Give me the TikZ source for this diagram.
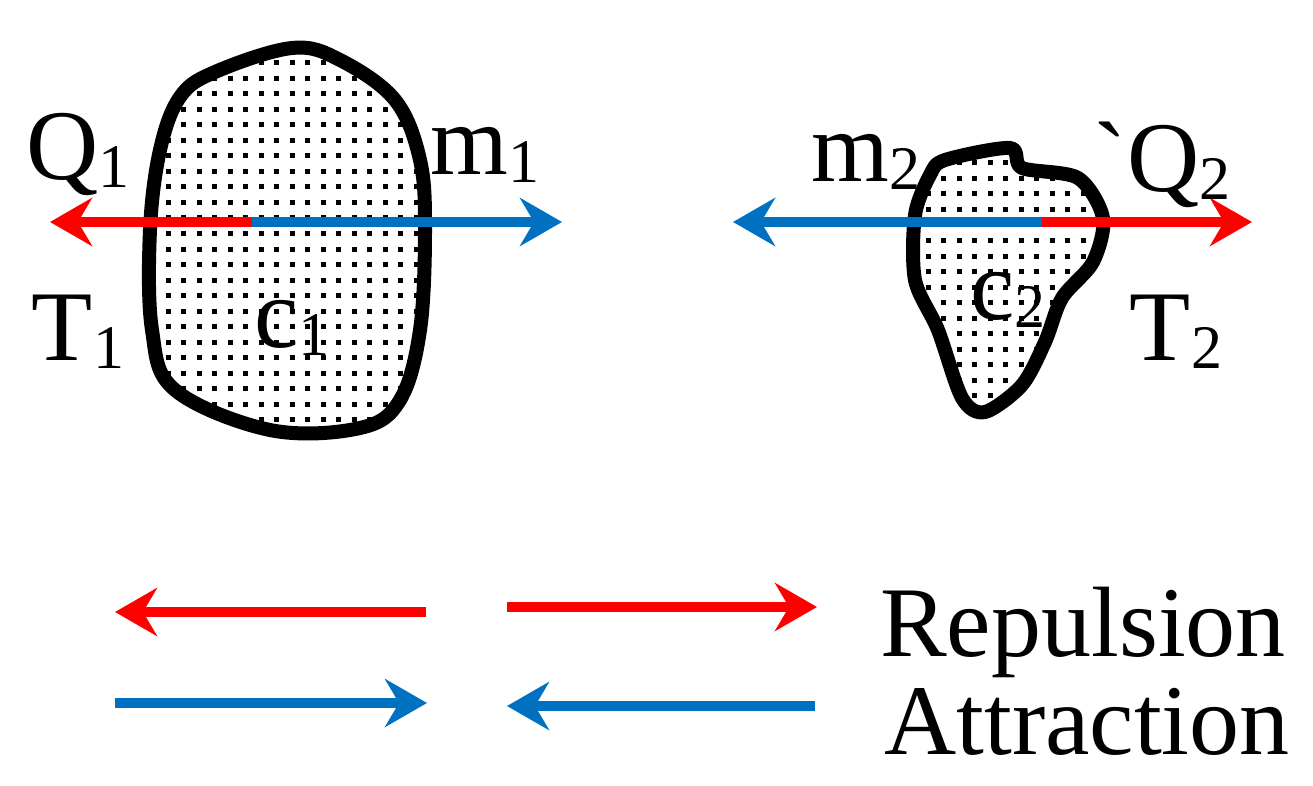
\documentclass[tikz,border=0pt]{standalone}
\usepackage{fontspec}
\setmainfont{Liberation Serif}
\usetikzlibrary{arrows.meta}
\begin{document}
\begin{tikzpicture}[x=1pt,y=-1pt,
 blob/.style={line width=14pt,line join=round},
 rep/.style={line width=10pt,draw={rgb,255:red,255;green,0;blue,0},-{Stealth[length=42pt,width=48pt,inset=14pt]}},
 att/.style={line width=10pt,draw={rgb,255:red,0;green,112;blue,192},-{Stealth[length=42pt,width=48pt,inset=14pt]}},
 lab/.style={font=\fontsize{100}{104}\selectfont,inner sep=0pt}]
\useasboundingbox (0,0) rectangle (1313,786);
\def\sub#1{\raisebox{-8pt}{\fontsize{62}{64}\selectfont #1}}
\def\blobA{plot[smooth cycle,tension=0.6] coordinates{(292,48)(215,72)(180,97)(160,150)(150,230)(152,330)(175,390)(270,430)(360,428)(400,400)(420,330)(425,230)(420,160)(395,100)(340,60)}}
\def\blobB{plot[smooth cycle,tension=0.5] coordinates{(945,160)(1010,148)(1022,168)(1078,178)(1103,218)(1093,262)(1062,298)(1045,342)(1022,385)(985,412)(962,398)(938,330)(915,280)(915,215)(930,175)}}
\begin{scope}
\clip \blobA;
\foreach \i in {0,...,19}{\foreach \j in {0,...,26}{\fill (150+\i*15.5,45+\j*15.5) rectangle ++(5,5);}}
\end{scope}
\begin{scope}
\clip \blobB;
\foreach \i in {0,...,13}{\foreach \j in {0,...,18}{\fill (910+\i*15.5,145+\j*15.5) rectangle ++(5,5);}}
\end{scope}
\draw[blob] \blobA;
\draw[blob] \blobB;
\coordinate (c1) at (252,222);
\coordinate (l1) at (50,222);
\coordinate (r1) at (562,222);
\coordinate (c2) at (1042,222);
\coordinate (l2) at (733,222);
\coordinate (r2) at (1252,222);
\draw[rep] (c1) -- (l1);
\draw[att] (c1) -- (r1);
\draw[att] (c2) -- (l2);
\draw[rep] (c2) -- (r2);
\coordinate (a1) at (426,612); \coordinate (a2) at (115,612);
\coordinate (b1) at (507,607); \coordinate (b2) at (817,607);
\coordinate (d1) at (115,703); \coordinate (d2) at (427,703);
\coordinate (e1) at (815,706); \coordinate (e2) at (507,706);
\draw[rep] (a1) -- (a2);
\draw[rep] (b1) -- (b2);
\draw[att] (d1) -- (d2);
\draw[att] (e1) -- (e2);
\node[lab] (q1) at (78,155) {Q\sub{1}};
\node[lab] (m1) at (485,155) {m\sub{1}};
\node[lab] (t1) at (78,332) {T\sub{1}};
\node[lab] (cc1) at (292,328) {c\sub{1}};
\node[lab] (m2) at (866,162) {m\sub{2}};
\node[lab] (q2) at (1162,165) {\textasciigrave Q\sub{2}};
\node[lab] (cc2) at (1008,300) {c\sub{2}};
\node[lab] (t2) at (1176,332) {T\sub{2}};
\node[lab,anchor=west] (rp) at (880,632) {Repulsion};
\node[lab,anchor=west] (at) at (884,722) {Attraction};
\end{tikzpicture}
\end{document}
